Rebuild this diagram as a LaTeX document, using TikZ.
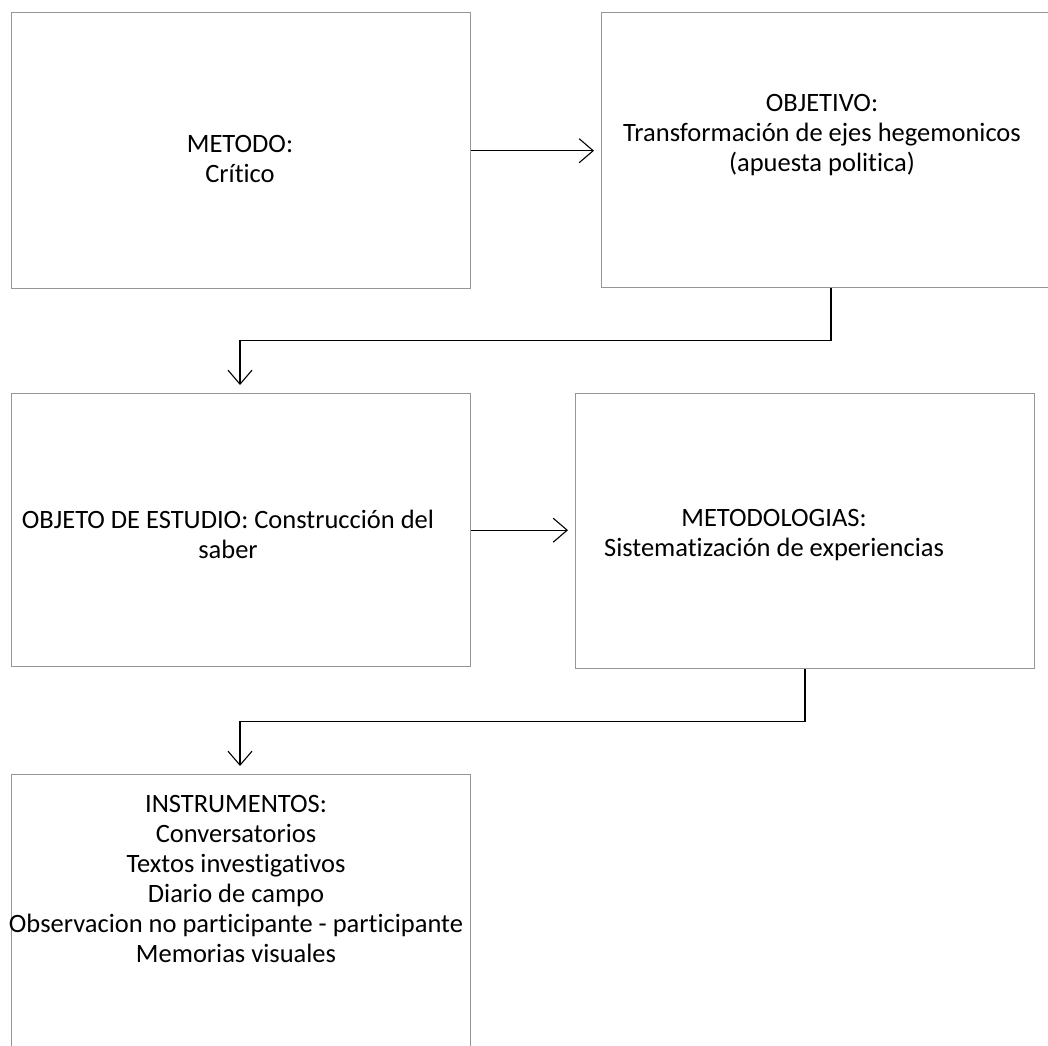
\documentclass[tikz,border=0pt]{standalone}
\usepackage{fontspec}
\setmainfont[RawFeature=-liga]{Carlito}
\usetikzlibrary{arrows.meta,calc}
\definecolor{boxgray}{RGB}{150,150,150}
\begin{document}
\begin{tikzpicture}[x=1pt,y=-1pt,
  box/.style={draw=boxgray,line width=1.4pt,inner sep=0pt,anchor=north west},
  conn/.style={draw=black,line width=1.1pt,-{Straight Barb[length=14pt,width=24pt,line width=1.1pt]}},
  lbl/.style={font=\fontsize{26.5}{30}\selectfont,align=center,inner sep=0pt,text=black}]
\useasboundingbox (0,0) rectangle (1048,1045);
\clip (0,0) rectangle (1048,1045);
\node[box,minimum width=459.5pt,minimum height=276pt] (b1) at (10.5,12) {};
\node[box,minimum width=480pt,minimum height=275pt] (b2) at (601,12) {};
\node[box,minimum width=459pt,minimum height=273pt] (b3) at (11,393) {};
\node[box,minimum width=459pt,minimum height=275pt] (b4) at (575,393) {};
\node[box,minimum width=459pt,minimum height=300pt] (b5) at (11,774) {};

\node[lbl] (l1) at (240,159) {METODO:\\Crítico};
\node[lbl] (l2) at (822,135) {OBJETIVO:\\Transformación de ejes hegemonicos\\(apuesta politica)};
\node[lbl] (l3) at (228,534) {OBJETO DE ESTUDIO: Construcción del\\saber};
\node[lbl] (l4) at (774,535) {METODOLOGIAS:\\Sistematización de experiencias};
\node[lbl] (l5) at (236,879) {INSTRUMENTOS:\\Conversatorios\\Textos investigativos\\Diario de campo\\Observacion no participante - participante\\Memorias visuales};

\draw[conn,shorten >=7pt] (b1.east) -- (b2.west |- b1.east);
\draw[conn,shorten >=7pt] (b3.east) -- (b4.west |- b3.east);

\coordinate (s1) at ($(b2.south west)+(230,0)$);
\coordinate (t1) at ($(b3.north west)+(229,-8)$);
\draw[conn] (s1) -- ++(0,52) -| (t1);
\coordinate (s2) at ($(b4.south west)+(230,0)$);
\coordinate (t2) at ($(b5.north west)+(229,-8)$);
\draw[conn] (s2) -- ++(0,52) -| (t2);
\end{tikzpicture}
\end{document}
